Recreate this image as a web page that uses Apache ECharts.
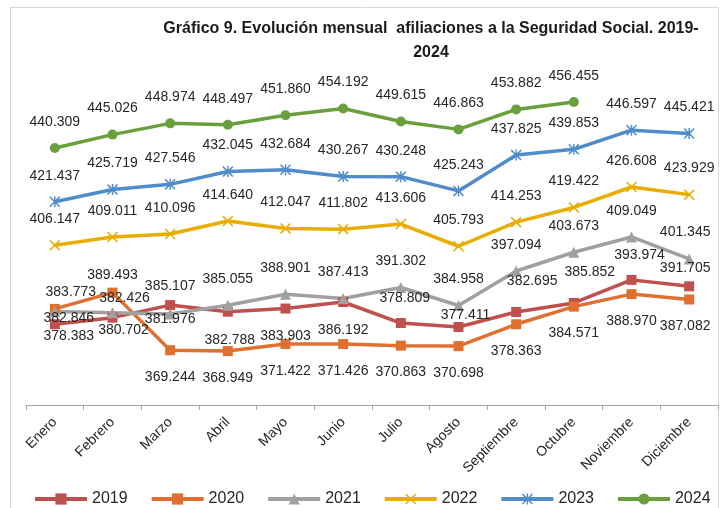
<!DOCTYPE html>
<html>
<head>
<meta charset="utf-8">
<script src="https://cdn.jsdelivr.net/npm/echarts@6.0.0/dist/echarts.min.js"></script>
<style>
  html, body { margin: 0; padding: 0; background: #fff; }
  #chart { width: 724px; height: 508px; }
</style>
</head>
<body>
<div id="chart"></div>
<script>
  var months = ['Enero', 'Febrero', 'Marzo', 'Abril', 'Mayo', 'Junio', 'Julio', 'Agosto',
    'Septiembre', 'Octubre', 'Noviembre', 'Diciembre'];
  var years = ['2019', '2020', '2021', '2022', '2023', '2024'];

  var y2019 = [378383, 380702, 385107, 382788, 383903, 386192, 378809, 377411, 382695, 385852, 393974, 391705];
  var y2020 = [383773, 389493, 369244, 368949, 371422, 371426, 370863, 370698, 378363, 384571, 388970, 387082];
  var y2021 = [382846, 382426, 381976, 385055, 388901, 387413, 391302, 384958, 397094, 403673, 409049, 401345];
  var y2022 = [406147, 409011, 410096, 414640, 412047, 411802, 413606, 405793, 414253, 419422, 426608, 423929];
  var y2023 = [421437, 425719, 427546, 432045, 432684, 430267, 430248, 425243, 437825, 439853, 446597, 445421];
  var y2024 = [440309, 445026, 448974, 448497, 451860, 454192, 449615, 446863, 453882, 456455];

  // posicion de las etiquetas respecto al marcador (px), como en el original
  var UP = [0, -26], DOWN = [0, 27];
  var lbl2019 = [[14, 12], [11, 13], [0, -19], [2, 28], [0, 28], [0, 28], [4, -25], [7, -12], [16, -31], [16, -31], [8, -25], [-4, -18]];
  var lbl2020 = [[16, -17], [0, -17], DOWN, DOWN, DOWN, DOWN, DOWN, DOWN, DOWN, DOWN, DOWN, [-4, 27]];
  var lbl2021 = [[14, 7], [12, -15], [0, 5], UP, UP, UP, UP, UP, UP, UP, UP, [-4, -27]];

  var xMark = 'path://M1,0 L5,4 L9,0 L10,1 L6,5 L10,9 L9,10 L5,6 L1,10 L0,9 L4,5 L0,1 Z';
  var starMark = 'path://M1,0 L5,4 L9,0 L10,1 L6,5 L10,9 L9,10 L5,6 L1,10 L0,9 L4,5 L0,1 Z M4.35,0 L5.65,0 L5.65,10 L4.35,10 Z';

  function miles(v) {
    return String(v).replace(/\B(?=(\d{3})+(?!\d))/g, '.');
  }

  function serie(name, values, color, symbol, size, offsets) {
    return {
      name: name,
      type: 'line',
      data: values.map(function (v, i) {
        return {value: v, label: {offset: offsets ? offsets[i] : UP}};
      }),
      symbol: symbol,
      symbolSize: size,
      lineStyle: {color: color, width: 3.5},
      itemStyle: {color: color, borderWidth: 0},
      label: {
        show: true,
        position: 'inside',
        formatter: function (p) { return miles(p.value); },
        fontFamily: 'Liberation Sans',
        fontSize: 14,
        color: '#262626'
      },
      emphasis: {disabled: true}
    };
  }

  var titleFont = 'bold 16px "Liberation Sans"';
  var chart = echarts.init(document.getElementById('chart'));
  var option = {
    animation: false,
    graphic: [
      {type: 'rect', shape: {x: 10.5, y: 7.5, width: 708, height: 600}, style: {fill: 'none', stroke: '#d9d9d9', lineWidth: 1}},
      {type: 'text', x: 431, y: 29, style: {text: 'Gráfico 9. Evolución mensual  afiliaciones a la Seguridad Social. 2019-',
        font: titleFont, fill: '#1a1a1a', align: 'center', verticalAlign: 'middle'}},
      {type: 'text', x: 431, y: 53, style: {text: '2024',
        font: titleFont, fill: '#1a1a1a', align: 'center', verticalAlign: 'middle'}}
    ],
    grid: {left: 26, right: 6, top: 92, bottom: 103},
    legend: {
      data: years,
      left: 28,
      top: 486,
      itemWidth: 52,
      itemHeight: 14,
      itemGap: 22,
      lineStyle: {width: 4},
      textStyle: {fontFamily: 'Liberation Sans', fontSize: 16, color: '#262626'}
    },
    xAxis: {
      type: 'category',
      data: months,
      boundaryGap: true,
      axisLine: {lineStyle: {color: '#a6a6a6', width: 1}},
      axisTick: {show: true, length: 5, lineStyle: {color: '#a6a6a6'}},
      axisLabel: {rotate: 45, margin: 15, interval: 0, fontFamily: 'Liberation Sans', fontSize: 14, color: '#262626'}
    },
    yAxis: {
      type: 'value',
      min: 350000,
      max: 460000,
      show: false,
      splitLine: {show: false}
    },
    series: [
      serie('2019', y2019, '#c0504d', 'rect', 10, lbl2019),
      serie('2020', y2020, '#df7030', 'rect', 10, lbl2020),
      serie('2021', y2021, '#a0a0a0', 'triangle', 11, lbl2021),
      serie('2022', y2022, '#e8ad00', xMark, 11),
      serie('2023', y2023, '#4f8cc9', starMark, 11),
      serie('2024', y2024, '#6aa03c', 'circle', 10)
    ]
  };
  chart.setOption(option);
</script>
</body>
</html>
